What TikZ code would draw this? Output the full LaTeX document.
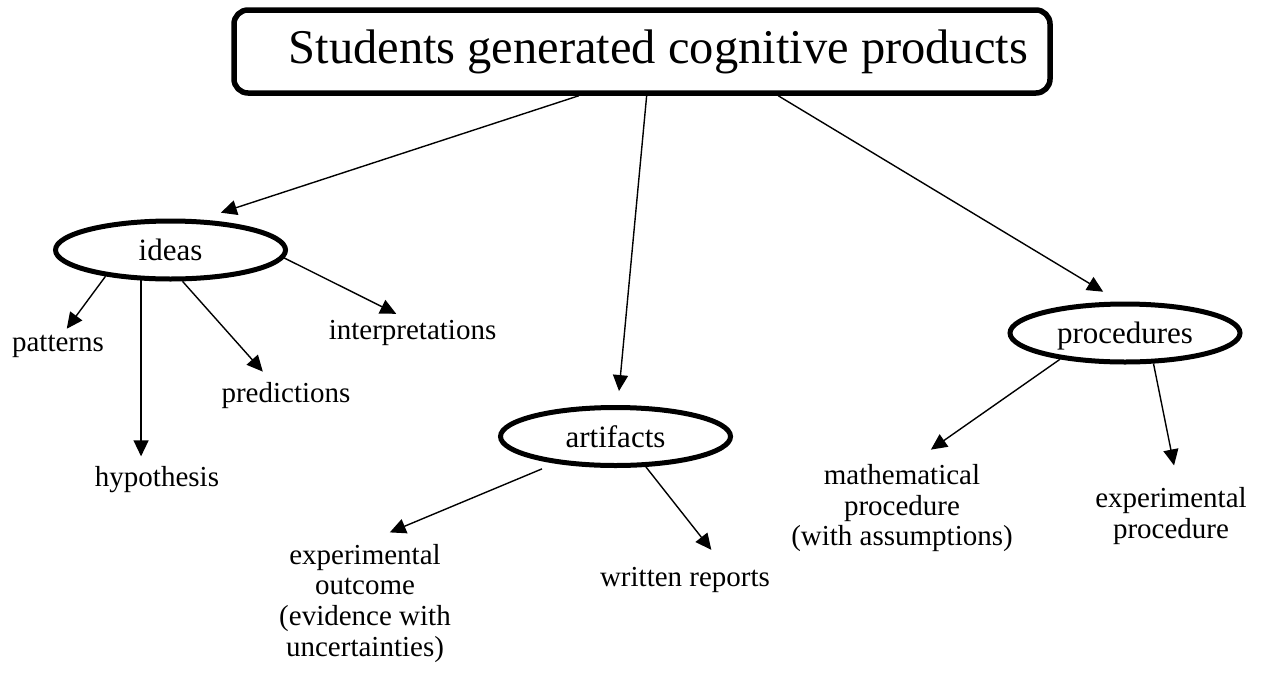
\documentclass[tikz,border=0pt]{standalone}
\usepackage{fontspec}
\setmainfont{Liberation Serif}
\usetikzlibrary{arrows.meta,shapes.geometric}

\begin{document}
\begin{tikzpicture}[x=1pt,y=-1pt,>={Triangle[length=16pt,width=15pt]},line width=1.4pt]
        \tikzstyle{mainbox}=[rectangle,rounded corners=14pt,draw,line width=5.5pt,minimum width=816pt,minimum height=83pt,inner sep=0pt,text width=772pt,align=flush right,font=\fontsize{48.5}{53}\selectfont]
        \tikzstyle{cat}=[ellipse,draw,line width=5pt,minimum width=230pt,minimum height=58pt,inner sep=0pt,text height=21pt,text depth=0pt,font=\fontsize{31}{33}\selectfont]
        \tikzstyle{leaf}=[align=center,inner sep=6pt,font=\fontsize{29}{30.7}\selectfont]
        \useasboundingbox (0,0) rectangle (1263,675);
        % top of the map
        \node[mainbox] (top) at (642,51.5) {Students generated cognitive products};
        \node[cat] (ideas) at (170.5,250) {ideas};
        \node[cat] (artifacts) at (615.5,436.5) {artifacts};
        \node[cat] (procedures) at (1125,333) {procedures};
        \draw[->,shorten >=22pt] (top.215) -- (ideas.46);
        \draw[->,shorten >=14pt] (top.276) -- (artifacts.86);
        \draw[->,shorten >=19pt] (top.342) -- (procedures.100);
        % ideas
        \node[leaf] (patterns) at (58,346.7) {patterns};
        \node[leaf] (hypothesis) at (157,479.2) {hypothesis};
        \node[leaf] (predictions) at (286,395.2) {predictions};
        \node[leaf] (interpretations) at (412.5,333.2) {interpretations};
        \draw[->] (ideas.202) -- (patterns.64);
        \draw[->,shorten >=3pt] (ideas.226) -- (ideas.226 |- hypothesis.north);
        \draw[->,shorten >=5pt] (ideas.291) -- (predictions.135);
        \draw[->] (ideas.356) -- (interpretations.130);
        % artifacts
        \node[leaf] (expout) at (365,603.3) {experimental\\outcome\\(evidence with\\uncertainties)};
        \node[leaf] (reports) at (685,580.2) {written reports};
        \draw[->,shorten <=14pt,shorten >=13pt] (artifacts.204) -- (expout.79);
        \draw[->,shorten >=14pt] (artifacts.315) -- (reports.29);
        % procedures
        \node[leaf] (mathproc) at (902,508.2) {mathematical\\procedure\\(with assumptions)};
        \node[leaf] (expproc) at (1171,516.3) {experimental\\procedure};
        \draw[->,shorten >=14pt] (procedures.202) -- (mathproc.71);
        \draw[->,shorten >=16pt] (procedures.313) -- (expproc.80);
\end{tikzpicture}
\end{document}
